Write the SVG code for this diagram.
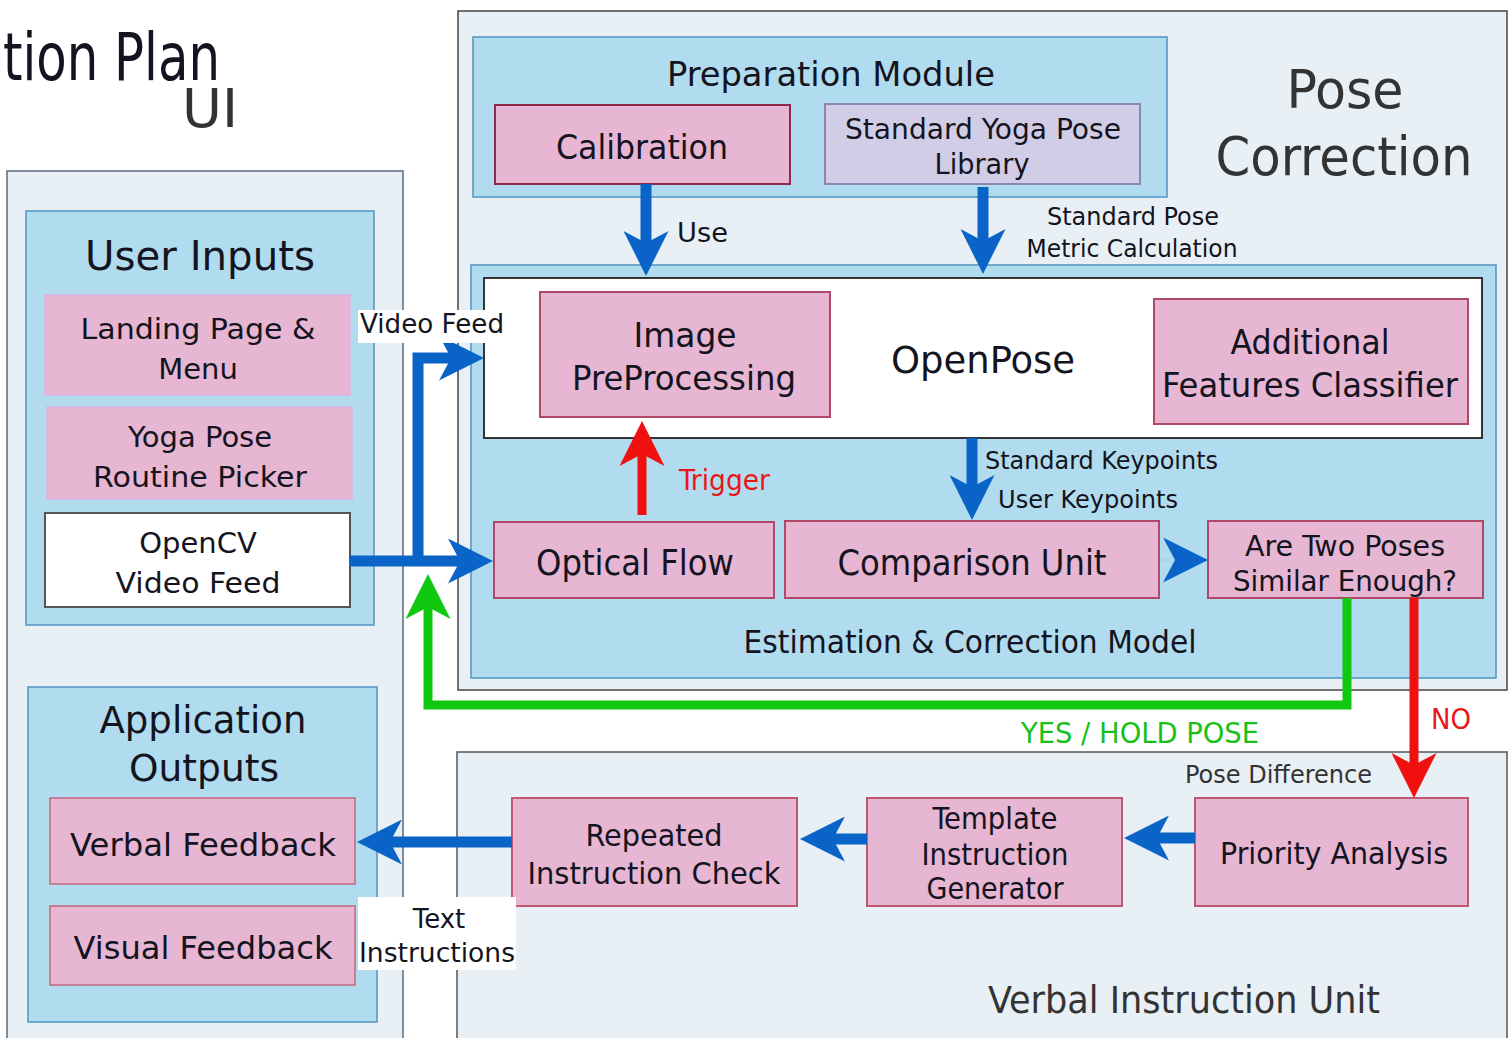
<svg xmlns="http://www.w3.org/2000/svg" width="1509" height="1038" viewBox="0 0 1509 1038">
<defs>
<marker id="ab" viewBox="0 0 45 45" markerWidth="45" markerHeight="45" refX="12" refY="22.5" orient="auto" markerUnits="userSpaceOnUse"><path d="M0,0 L45,22.5 L0,45 L12,22.5 Z" fill="#0a64c8"/></marker>
<marker id="ar" viewBox="0 0 45 45" markerWidth="45" markerHeight="45" refX="12" refY="22.5" orient="auto" markerUnits="userSpaceOnUse"><path d="M0,0 L45,22.5 L0,45 L12,22.5 Z" fill="#f01010"/></marker>
<marker id="ag" viewBox="0 0 45 45" markerWidth="45" markerHeight="45" refX="12" refY="22.5" orient="auto" markerUnits="userSpaceOnUse"><path d="M0,0 L45,22.5 L0,45 L12,22.5 Z" fill="#10c810"/></marker>
</defs>
<style>
.panel{fill:#e8f0f5;stroke:#5a6a78;stroke-width:1.5}
.blue{fill:#b1dcef;stroke:#4f93bf;stroke-width:1.5}
.pinkL{fill:#e6b6d3;stroke:#ddb0e2;stroke-width:1.5}
.pinkO{fill:#e6b6d3;stroke:#c0687e;stroke-width:1.5}
.pinkR{fill:#e6b6d3;stroke:#b04868;stroke-width:2}
.lav{fill:#d2cde6;stroke:#8a86b0;stroke-width:2}
.white{fill:#ffffff;stroke:#444;stroke-width:2}
text{font-family:"DejaVu Sans Condensed","DejaVu Sans",sans-serif;fill:#141420}
.L{font-family:"DejaVu Sans",sans-serif}
.m{text-anchor:middle}
.g{fill:#333}
.cb{fill:none;stroke:#0a64c8;stroke-width:11}
.cr{fill:none;stroke:#f01010;stroke-width:9}
.cg{fill:none;stroke:#10c810;stroke-width:9}
</style>
<rect width="1509" height="1038" fill="#ffffff"/>

<g id="title">
<text x="3" y="80" font-size="66" textLength="217" lengthAdjust="spacingAndGlyphs" fill="#111">tion Plan</text>
<text x="182" y="127" font-size="54" textLength="56" lengthAdjust="spacingAndGlyphs" class="g">UI</text>
</g>

<g id="ui-panel"><rect class="panel" x="7" y="171" width="396" height="880"/></g>
<g id="pose-correction-panel">
<rect class="panel" x="458" y="11" width="1049" height="679" style="stroke:#444"/>
<text class="m g" x="1345" y="108" font-size="54" textLength="117" lengthAdjust="spacingAndGlyphs">Pose</text>
<text class="m g" x="1344" y="175" font-size="54" textLength="257" lengthAdjust="spacingAndGlyphs">Correction</text>
</g>
<g id="verbal-instruction-unit">
<rect class="panel" x="457" y="752" width="1050" height="300" style="stroke:#555"/>
<text class="m g" x="1184" y="1013" font-size="37" textLength="392" lengthAdjust="spacingAndGlyphs">Verbal Instruction Unit</text>
</g>

<g id="user-inputs">
<rect class="blue" x="26" y="211" width="348" height="414"/>
<text class="L m" x="200" y="270" font-size="41" textLength="230" lengthAdjust="spacingAndGlyphs">User Inputs</text>
</g>
<g id="landing-page">
<rect class="pinkL" x="45" y="295" width="305" height="100"/>
<text class="L m" x="198" y="339" font-size="29" textLength="235" lengthAdjust="spacingAndGlyphs">Landing Page &amp;</text>
<text class="L m" x="198" y="379" font-size="29">Menu</text>
</g>
<g id="routine-picker">
<rect class="pinkL" x="47" y="407" width="305" height="92"/>
<text class="L m" x="200" y="447" font-size="29">Yoga Pose</text>
<text class="L m" x="200" y="487" font-size="29" textLength="214" lengthAdjust="spacingAndGlyphs">Routine Picker</text>
</g>
<g id="opencv">
<rect class="white" x="45" y="513" width="305" height="94" style="stroke:#555"/>
<text class="L m" x="198" y="553" font-size="29">OpenCV</text>
<text class="L m" x="198" y="593" font-size="29" textLength="165" lengthAdjust="spacingAndGlyphs">Video Feed</text>
</g>

<g id="application-outputs">
<rect class="blue" x="28" y="687" width="349" height="335"/>
<text class="L m" x="203" y="733" font-size="37" textLength="207" lengthAdjust="spacingAndGlyphs">Application</text>
<text class="L m" x="204" y="781" font-size="37" textLength="150" lengthAdjust="spacingAndGlyphs">Outputs</text>
</g>
<g id="verbal-feedback">
<rect class="pinkO" x="50" y="798" width="305" height="86"/>
<text class="L m" x="203" y="856" font-size="32" textLength="266" lengthAdjust="spacingAndGlyphs">Verbal Feedback</text>
</g>
<g id="visual-feedback">
<rect class="pinkO" x="50" y="906" width="305" height="79"/>
<text class="L m" x="203" y="959" font-size="32" textLength="259" lengthAdjust="spacingAndGlyphs">Visual Feedback</text>
</g>

<g id="preparation-module">
<rect class="blue" x="473" y="37" width="694" height="160"/>
<text class="m" x="831" y="86" font-size="34" textLength="328" lengthAdjust="spacingAndGlyphs">Preparation Module</text>
</g>
<g id="calibration">
<rect class="pinkR" x="495" y="105" width="295" height="79" style="stroke:#8e2a48"/>
<text class="m" x="642" y="159" font-size="34" textLength="172" lengthAdjust="spacingAndGlyphs">Calibration</text>
</g>
<g id="pose-library">
<rect class="lav" x="825" y="104" width="315" height="80"/>
<text class="m" x="983" y="139" font-size="29" textLength="276" lengthAdjust="spacingAndGlyphs">Standard Yoga Pose</text>
<text class="m" x="982" y="174" font-size="29" textLength="95" lengthAdjust="spacingAndGlyphs">Library</text>
</g>

<g id="estimation-model">
<rect class="blue" x="471" y="265" width="1025" height="413"/>
<text class="m" x="970" y="653" font-size="32" textLength="453" lengthAdjust="spacingAndGlyphs">Estimation &amp; Correction Model</text>
</g>
<g id="openpose">
<rect class="white" x="484" y="278" width="998" height="160" style="stroke:#333"/>
<text class="m" x="983" y="373" font-size="37" textLength="184" lengthAdjust="spacingAndGlyphs">OpenPose</text>
</g>
<g id="image-preprocessing">
<rect class="pinkR" x="540" y="292" width="290" height="125"/>
<text class="m" x="685" y="347" font-size="34" textLength="103" lengthAdjust="spacingAndGlyphs">Image</text>
<text class="m" x="684" y="390" font-size="34" textLength="224" lengthAdjust="spacingAndGlyphs">PreProcessing</text>
</g>
<g id="features-classifier">
<rect class="pinkR" x="1154" y="299" width="314" height="125"/>
<text class="m" x="1310" y="354" font-size="34" textLength="159" lengthAdjust="spacingAndGlyphs">Additional</text>
<text class="m" x="1310" y="397" font-size="34" textLength="296" lengthAdjust="spacingAndGlyphs">Features Classifier</text>
</g>
<g id="optical-flow">
<rect class="pinkR" x="494" y="522" width="280" height="76"/>
<text class="m" x="635" y="575" font-size="35" textLength="198" lengthAdjust="spacingAndGlyphs">Optical Flow</text>
</g>
<g id="comparison-unit">
<rect class="pinkR" x="785" y="521" width="374" height="77"/>
<text class="m" x="972" y="575" font-size="35" textLength="269" lengthAdjust="spacingAndGlyphs">Comparison Unit</text>
</g>
<g id="similar-enough">
<rect class="pinkR" x="1208" y="521" width="275" height="77"/>
<text class="m" x="1345" y="556" font-size="28" textLength="200" lengthAdjust="spacingAndGlyphs">Are Two Poses</text>
<text class="m" x="1345" y="591" font-size="28" textLength="224" lengthAdjust="spacingAndGlyphs">Similar Enough?</text>
</g>

<g id="priority-analysis">
<rect class="pinkR" x="1195" y="798" width="273" height="108" style="stroke:#c05a72"/>
<text class="m" x="1334" y="864" font-size="31" textLength="228" lengthAdjust="spacingAndGlyphs">Priority Analysis</text>
</g>
<g id="template-generator">
<rect class="pinkR" x="867" y="798" width="255" height="108" style="stroke:#c05a72"/>
<text class="m" x="995" y="829" font-size="30" textLength="125" lengthAdjust="spacingAndGlyphs">Template</text>
<text class="m" x="995" y="865" font-size="30" textLength="147" lengthAdjust="spacingAndGlyphs">Instruction</text>
<text class="m" x="995" y="899" font-size="30" textLength="137" lengthAdjust="spacingAndGlyphs">Generator</text>
</g>
<g id="repeated-check">
<rect class="pinkR" x="512" y="798" width="285" height="108" style="stroke:#c05a72"/>
<text class="m" x="654" y="846" font-size="31" textLength="137" lengthAdjust="spacingAndGlyphs">Repeated</text>
<text class="m" x="654" y="884" font-size="31" textLength="253" lengthAdjust="spacingAndGlyphs">Instruction Check</text>
</g>

<g id="connectors">
<path class="cb" d="M646,184 V243" marker-end="url(#ab)"/>
<path class="cb" d="M983,187 V241" marker-end="url(#ab)"/>
<path class="cb" d="M972,438 V487" marker-end="url(#ab)"/>
<path class="cb" d="M1159,560 H1175" marker-end="url(#ab)" style="stroke-width:0.1"/>
<path class="cr" d="M642,515 V454" marker-end="url(#ar)"/>
<path class="cb" d="M350,561 H460" marker-end="url(#ab)"/>
<path class="cb" d="M418,561 V358 H451" marker-end="url(#ab)"/>
<path class="cg" d="M1347,598 V705 H428 V607" marker-end="url(#ag)"/>
<path class="cr" d="M1414,598 V765" marker-end="url(#ar)"/>
<path class="cb" d="M1195,838 H1157" marker-end="url(#ab)"/>
<path class="cb" d="M867,839 H833" marker-end="url(#ab)"/>
<path class="cb" d="M512,842 H390" marker-end="url(#ab)"/>

<text x="677" y="242" font-size="26" textLength="51" lengthAdjust="spacingAndGlyphs">Use</text>
<text class="m" x="1133" y="225" font-size="25" textLength="172" lengthAdjust="spacingAndGlyphs">Standard Pose</text>
<text class="m" x="1132" y="257" font-size="25" textLength="211" lengthAdjust="spacingAndGlyphs">Metric Calculation</text>
<text x="985" y="469" font-size="25" textLength="233" lengthAdjust="spacingAndGlyphs">Standard Keypoints</text>
<text x="998" y="508" font-size="25" textLength="180" lengthAdjust="spacingAndGlyphs">User Keypoints</text>
<text x="679" y="490" font-size="28" textLength="91" lengthAdjust="spacingAndGlyphs" style="fill:#e81818">Trigger</text>
<text x="1021" y="743" font-size="28" textLength="238" lengthAdjust="spacingAndGlyphs" style="fill:#18c018">YES / HOLD POSE</text>
<text x="1431" y="729" font-size="28" textLength="40" lengthAdjust="spacingAndGlyphs" style="fill:#e81818">NO</text>
<text x="1185" y="783" font-size="25" textLength="187" lengthAdjust="spacingAndGlyphs" class="g">Pose Difference</text>
<rect x="358" y="310" width="147" height="33" fill="#ffffff"/>
<text class="L m" x="432" y="333" font-size="26" textLength="144" lengthAdjust="spacingAndGlyphs">Video Feed</text>
<rect x="358" y="897" width="158" height="73" fill="#ffffff"/>
<text class="L m" x="439" y="928" font-size="26">Text</text>
<text class="L m" x="437" y="962" font-size="26" textLength="156" lengthAdjust="spacingAndGlyphs">Instructions</text>
</g>
</svg>
